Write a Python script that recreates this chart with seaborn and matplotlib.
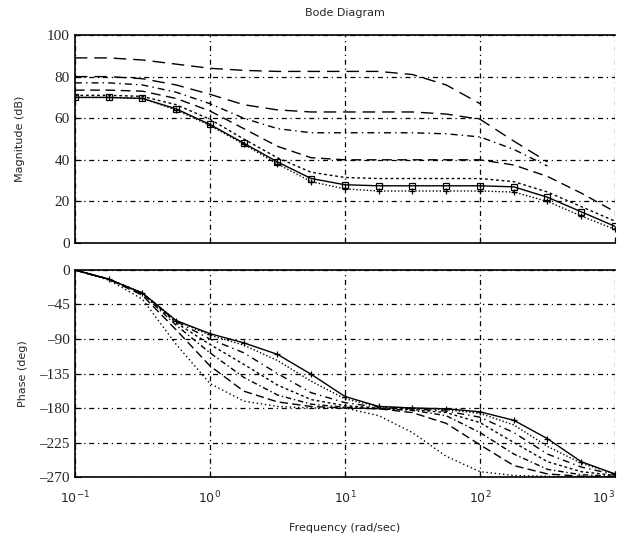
import numpy as np
import matplotlib
matplotlib.use('Agg')
import seaborn as sns
from matplotlib import pyplot as plt

sns.set_style('white')

# frequency grid, quarter decades from 10^-1 to 10^3 (rad/sec)
freq = [0.1, 0.178, 0.316, 0.562, 1.0, 1.78, 3.16, 5.62, 10.0,
        17.8, 31.6, 56.2, 100.0, 178.0, 316.0, 562.0, 1000.0]

nan = np.nan
# magnitude curves (dB)
mag_curves = {
    'c1': [89, 89, 88, 86, 84, 83, 82.5, 82.5, 82.5, 82.5, 81, 76, 67, nan, nan, nan, nan],
    'c2': [80, 80, 79, 76, 71.5, 66.5, 64, 63, 63, 63, 63, 62, 59.5, 49, 39, nan, nan],
    'c3': [77, 77, 76, 72.5, 67, 60, 55, 53, 53, 53, 53, 52.5, 51, 45, 37, nan, nan],
    'c4': [73.5, 73.5, 73, 69.5, 63.5, 55, 46.5, 41, 40, 40, 40, 40, 40, 37.5, 32, 24, 15],
    'c5': [71, 71, 70.5, 66.5, 59.5, 50, 41, 34, 31.5, 31, 31, 31, 31, 29.5, 24.5, 17.5, 10.5],
    'c6': [70, 70, 69.5, 64.5, 57, 48, 39, 31, 28, 27.5, 27.5, 27.5, 27.5, 27, 22, 15, 8],
    'c7': [70, 70, 69.5, 64, 56.5, 47.5, 38, 29.5, 26, 25, 25, 25, 25, 24.5, 20, 13, 6.5],
}

# phase curves (deg)
phase_curves = {
    'p1': [0, -13, -38, -97, -148, -171, -178, -180, -180, -190, -212, -243, -263, -268, -269, -270, -270],
    'p2': [0, -12, -33, -78, -125, -158, -172, -178, -180, -181, -186, -200, -228, -255, -266, -269, -270],
    'p3': [0, -12, -31, -72, -108, -140, -163, -175, -179, -181, -183, -190, -212, -240, -260, -267, -269],
    'p4': [0, -12, -30, -69, -97, -123, -150, -169, -177, -180, -182, -186, -199, -225, -250, -263, -268],
    'p5': [0, -12, -30, -67, -90, -108, -135, -160, -173, -179, -181, -184, -192, -212, -240, -257, -267],
    'p6': [0, -12, -30, -66, -85, -98, -118, -145, -168, -178, -180, -182, -187, -202, -230, -252, -266],
    'p7': [0, -12, -30, -66, -83, -95, -110, -136, -165, -178, -180, -181, -185, -196, -220, -250, -266],
}

x_labels = ['$10^{-1}$', '$10^{0}$', '$10^{1}$', '$10^{2}$', '$10^{3}$']
mag_ticks = [0, 20, 40, 60, 80, 100]
phase_ticks = [0, -45, -90, -135, -180, -225, -270]

mag_styles = [(0, (9, 5)), (0, (9, 5)), (0, (5, 3, 1, 3)), (0, (7, 4)),
              (0, (2, 2)), '-', (0, (1, 1.5))]
mag_markers = [None, None, None, None, None, 's', '+']
phase_styles = [(0, (1, 2)), (0, (6, 3)), (0, (4, 2, 1, 2)), (0, (2, 2)),
                (0, (5, 3, 1, 3)), (0, (1, 1.5)), '-']
phase_markers = [None, None, None, None, None, None, '+']

grid_style = (0, (4, 3, 1, 3))
serif = 'Liberation Serif'

fig = plt.figure(figsize=(6.24, 5.43), dpi=100)
ax1 = fig.add_axes([0.120, 0.5525, 0.8656, 0.383])
ax2 = fig.add_axes([0.120, 0.1215, 0.8656, 0.3813])

for (name, vals), ls, mk in zip(mag_curves.items(), mag_styles, mag_markers):
    sns.lineplot(x=freq, y=vals, ax=ax1, color='black', linestyle=ls, linewidth=1.0,
                 marker=mk, markersize=4, markerfacecolor='none', markeredgecolor='black',
                 markeredgewidth=0.9)

for (name, vals), ls, mk in zip(phase_curves.items(), phase_styles, phase_markers):
    sns.lineplot(x=freq, y=vals, ax=ax2, color='black', linestyle=ls, linewidth=1.0,
                 marker=mk, markersize=4, markeredgecolor='black', markeredgewidth=0.9)

for ax in (ax1, ax2):
    ax.set_xscale('log')
    ax.set_xlim(0.1, 1000)
    ax.set_xticks([0.1, 1, 10, 100, 1000])
    ax.minorticks_off()
    ax.grid(True, color='black', linestyle=grid_style, linewidth=0.9)
    ax.spines['right'].set_visible(False)
    for s in ('left', 'bottom', 'top'):
        ax.spines[s].set_color('black')
        ax.spines[s].set_linewidth(1.2)
    ax.tick_params(axis='both', direction='in', length=4, color='black',
                   left=True, bottom=True, labelsize=11)

ax1.set_ylim(0, 100)
ax1.set_yticks(mag_ticks)
ax1.set_yticklabels([str(t) for t in mag_ticks], fontfamily=serif, fontsize=11)
ax1.set_xticklabels([])
ax1.set_ylabel('Magnitude (dB)', fontsize=8, labelpad=16)
ax1.set_title('Bode Diagram', fontsize=8, pad=14)

ax2.set_ylim(-270, 0)
ax2.set_yticks(phase_ticks)
ax2.set_yticklabels([str(t).replace('-', '\u2013') for t in phase_ticks],
                    fontfamily=serif, fontsize=11)
ax2.set_xticklabels(x_labels, fontsize=9)
ax2.tick_params(axis='x', pad=9)
ax2.get_xticklabels()[-1].set_horizontalalignment('right')
ax2.set_ylabel('Phase (deg)', fontsize=8, labelpad=8)
ax2.set_xlabel('Frequency (rad/sec)', fontsize=8, labelpad=12)

fig.savefig('out.png', dpi=100, facecolor='white')
